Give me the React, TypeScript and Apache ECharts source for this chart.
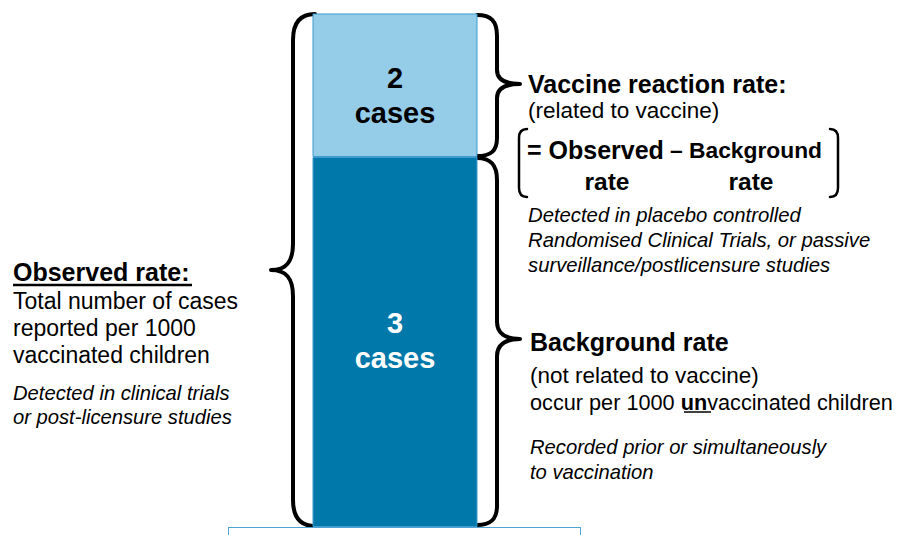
import React, { useEffect, useRef } from "react";
import * as echarts from "echarts";

// ---- data ----
const categories = ["Per 1000 vaccinated children"];
const backgroundCases = [3]; // not related to vaccine
const vaccineCases = [2]; // related to vaccine
const unitLabel = "cases";

const FONT = "'Liberation Sans', Arial, Helvetica, sans-serif";

const LEFT_BRACE =
  "M315,14 C301,14 293,22 293,40 L293,244 C293,262 286,270 271,270 C286,270 293,278 293,296 L293,500 C293,518 301,526 315,526";
const TOP_BRACE =
  "M477,15 C491,15 497,21 497,36 L497,70 C497,79 505,84 520,84 C505,84 497,89 497,98 L497,138 C497,151 491,156 477,156";
const BOTTOM_BRACE =
  "M477,158 C491,158 497,165 497,180 L497,322 C497,333 505,339 520,339 C505,339 497,345 497,356 L497,506 C497,519 491,525 477,525";
const LEFT_BRACKET = "M527,129 C522,129 519,132 519,138 L519,188 C519,194 522,197 527,197";
const RIGHT_BRACKET = "M830,129 C835,129 838,132 838,138 L838,188 C838,194 835,197 830,197";

let registered = false;
function registerShapes() {
  if (registered) return;
  registered = true;
  echarts.graphic.registerShape("leftBrace", echarts.graphic.extendPath(LEFT_BRACE, {}) as any);
  echarts.graphic.registerShape("topBrace", echarts.graphic.extendPath(TOP_BRACE, {}) as any);
  echarts.graphic.registerShape("bottomBrace", echarts.graphic.extendPath(BOTTOM_BRACE, {}) as any);
  echarts.graphic.registerShape("leftBracket", echarts.graphic.extendPath(LEFT_BRACKET, {}) as any);
  echarts.graphic.registerShape("rightBracket", echarts.graphic.extendPath(RIGHT_BRACKET, {}) as any);
}

function txt(
  text: string,
  x: number,
  y: number,
  size: number,
  opts: { weight?: string; style?: string; align?: string; rich?: any } = {}
) {
  return {
    type: "text",
    x,
    y,
    silent: true,
    style: {
      text,
      fontSize: size,
      fontFamily: FONT,
      fontWeight: opts.weight || "normal",
      fontStyle: opts.style || "normal",
      fill: "#000",
      align: opts.align || "left",
      verticalAlign: "middle",
      rich: opts.rich,
    },
  };
}

export default function App() {
  const ref = useRef<HTMLDivElement>(null);

  useEffect(() => {
    if (!ref.current) return;
    registerShapes();
    const chart = echarts.init(ref.current, undefined, { renderer: "svg" });

    const gridTop = 13.5;
    const gridH = 513.5;
    const bottomPx = 370; // drawn height of background segment
    const topPx = gridH - bottomPx;

    const braceStyle = { fill: "none", stroke: "#000", lineWidth: 4, lineCap: "round", lineJoin: "round" };
    const bracketStyle = { fill: "none", stroke: "#000", lineWidth: 2.5, lineCap: "round" };

    const option: any = {
      animation: false,
      backgroundColor: "#fff",
      grid: [
        { left: 312.5, top: gridTop, width: 165, height: gridH },
        { left: 228.5, top: gridTop, width: 352, height: gridH },
      ],
      xAxis: [
        { type: "category", gridIndex: 0, data: categories, show: false },
        {
          type: "category",
          gridIndex: 1,
          data: categories,
          axisLine: { show: true, lineStyle: { color: "#4fa3d3", width: 1 } },
          axisTick: { show: true, length: 9, lineStyle: { color: "#4fa3d3" } },
          axisLabel: { show: false },
          splitLine: { show: false },
        },
      ],
      yAxis: [
        {
          type: "value",
          gridIndex: 0,
          min: 0,
          max: (backgroundCases[0] * gridH) / bottomPx,
          show: false,
          splitLine: { show: false },
        },
        {
          type: "value",
          gridIndex: 0,
          min: (-vaccineCases[0] * bottomPx) / topPx,
          max: vaccineCases[0],
          show: false,
          splitLine: { show: false },
        },
        { type: "value", gridIndex: 1, min: 0, max: 1, show: false, splitLine: { show: false } },
      ],
      series: [
        {
          name: "Background rate",
          type: "bar",
          xAxisIndex: 0,
          yAxisIndex: 0,
          data: backgroundCases,
          barWidth: "100%",
          barGap: "-100%",
          itemStyle: { color: "#0078a9", borderColor: "#3f9bcd", borderWidth: 1 },
          label: {
            show: true,
            position: "inside",
            offset: [0, -2],
            formatter: (p: any) => `${p.value}\n${unitLabel}`,
            color: "#fff",
            fontFamily: FONT,
            fontWeight: "bold",
            fontSize: 29,
            lineHeight: 35,
          },
        },
        {
          name: "Vaccine reaction rate",
          type: "bar",
          xAxisIndex: 0,
          yAxisIndex: 1,
          data: vaccineCases,
          barWidth: "100%",
          barGap: "-100%",
          itemStyle: { color: "#95cde9", borderColor: "#3f9bcd", borderWidth: 1 },
          label: {
            show: true,
            position: "inside",
            offset: [0, 10],
            formatter: (p: any) => `${p.value}\n${unitLabel}`,
            color: "#000",
            fontFamily: FONT,
            fontWeight: "bold",
            fontSize: 29,
            lineHeight: 35,
          },
        },
      ],
      graphic: [
        { type: "leftBrace", x: 0, y: 0, silent: true, style: braceStyle },
        { type: "topBrace", x: 0, y: 0, silent: true, style: braceStyle },
        { type: "bottomBrace", x: 0, y: 0, silent: true, style: braceStyle },
        { type: "leftBracket", x: 0, y: 0, silent: true, style: bracketStyle },
        { type: "rightBracket", x: 0, y: 0, silent: true, style: bracketStyle },

        // right, upper block
        txt("Vaccine reaction rate:", 528, 84, 25, { weight: "bold" }),
        txt("(related to vaccine)", 528, 110, 22.5),
        txt("= Observed", 527, 149.5, 25, { weight: "bold" }),
        txt("– Background", 670, 150, 22.8, { weight: "bold" }),
        txt("rate", 607, 181, 24.5, { weight: "bold", align: "center" }),
        txt("rate", 751, 181, 24.5, { weight: "bold", align: "center" }),
        txt("Detected in placebo controlled", 528, 215, 20.3, { style: "italic" }),
        txt("Randomised Clinical Trials, or passive", 528, 240, 20.3, { style: "italic" }),
        txt("surveillance/postlicensure studies", 528, 265, 20.3, { style: "italic" }),

        // right, lower block
        txt("Background rate", 530, 342, 25, { weight: "bold" }),
        txt("(not related to vaccine)", 530, 375, 22.5),
        txt("{r|occur per 1000 }{b|un}{r|vaccinated children}", 530, 402, 21.7, {
          rich: {
            r: { fontSize: 21.7, fontFamily: FONT, fontWeight: "normal", fill: "#000" },
            b: { fontSize: 21.7, fontFamily: FONT, fontWeight: "bold", fill: "#000" },
          },
        }),
        { type: "line", silent: true, shape: { x1: 684, y1: 412, x2: 711, y2: 412 }, style: { stroke: "#000", lineWidth: 1.5 } },
        txt("Recorded prior or simultaneously", 530, 447, 20.2, { style: "italic" }),
        txt("to vaccination", 530, 472, 20.2, { style: "italic" }),

        // left block
        txt("Observed rate:", 13, 272, 25, { weight: "bold" }),
        { type: "line", silent: true, shape: { x1: 13, y1: 285, x2: 192, y2: 285 }, style: { stroke: "#000", lineWidth: 2.5 } },
        txt("Total number of cases", 13, 301, 23),
        txt("reported per 1000", 13, 328, 23),
        txt("vaccinated children", 13, 355, 23),
        txt("Detected in clinical trials", 13, 393, 20.2, { style: "italic" }),
        txt("or post-licensure studies", 13, 417, 20.2, { style: "italic" }),
      ],
    };

    chart.setOption(option);
    return () => chart.dispose();
  }, []);

  return (
    <div
      ref={ref}
      style={{ position: "fixed", left: 0, top: 0, width: 897, height: 535, background: "#fff" }}
    />
  );
}
